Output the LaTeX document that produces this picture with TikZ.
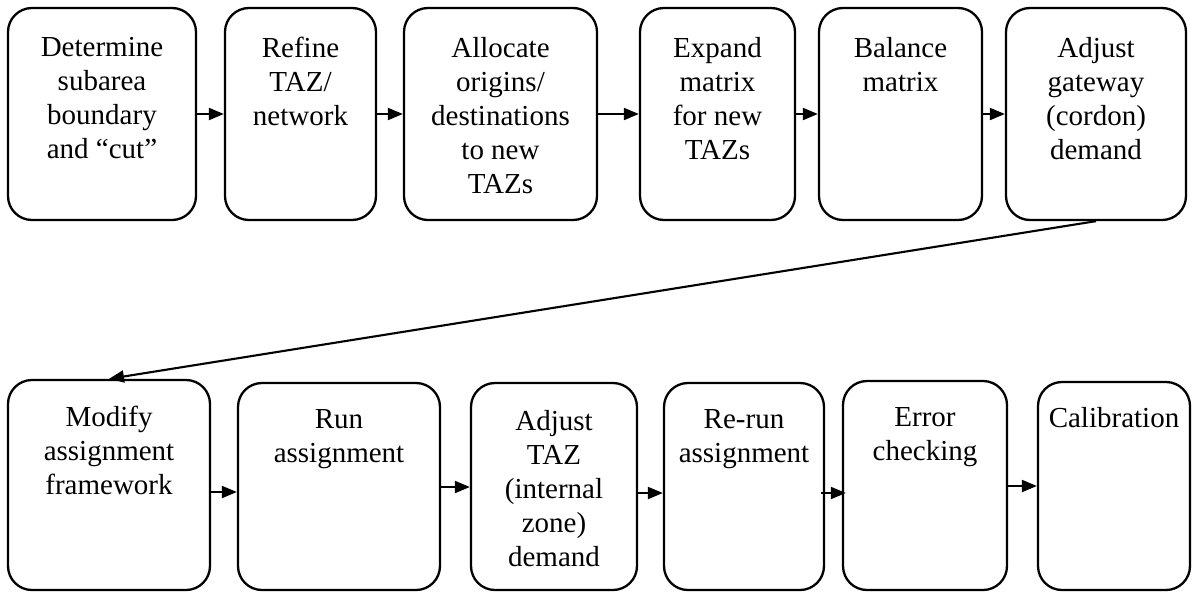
\documentclass[tikz,border=0pt]{standalone}
\usepackage{fontspec}
\setmainfont{Liberation Serif}
\usetikzlibrary{arrows.meta}
\begin{document}
\begin{tikzpicture}[x=1pt,y=-1pt,
  stepbox/.style={draw, line width=2.3pt, rounded corners=24pt, inner sep=0pt},
  txt/.style={align=center, anchor=north, inner sep=0pt, font=\fontsize{29}{34}\selectfont},
  arr/.style={line width=2.1pt, -{Triangle[length=15pt,width=12pt]}}]
\useasboundingbox (0,0) rectangle (1196,592);
% top row
\node[stepbox, minimum width=188pt, minimum height=212pt] (t1) at (102,114) {};
\node[stepbox, minimum width=151pt, minimum height=212pt] (t2) at (300.5,114) {};
\node[stepbox, minimum width=193pt, minimum height=212pt] (t3) at (500.5,114) {};
\node[stepbox, minimum width=155pt, minimum height=212pt] (t4) at (717.5,114) {};
\node[stepbox, minimum width=163pt, minimum height=212pt] (t5) at (900.5,114) {};
\node[stepbox, minimum width=180pt, minimum height=212pt] (t6) at (1096,114) {};
\node[txt] (t1x) at ([yshift=-30pt]t1.north) {Determine\\subarea\\boundary\\and “cut”};
\node[txt] (t2x) at ([yshift=-30pt]t2.north) {Refine\\TAZ/\\network};
\node[txt] (t3x) at ([yshift=-30pt]t3.north) {Allocate\\origins/\\destinations\\to new\\TAZs};
\node[txt] (t4x) at ([yshift=-30pt]t4.north) {Expand\\matrix\\for new\\TAZs};
\node[txt] (t5x) at ([yshift=-30pt]t5.north) {Balance\\matrix};
\node[txt] (t6x) at ([yshift=-30pt]t6.north) {Adjust\\gateway\\(cordon)\\demand};
% bottom row
\node[stepbox, minimum width=202pt, minimum height=210pt] (b1) at (109,485) {};
\node[stepbox, minimum width=202pt, minimum height=207pt] (b2) at (339,486.5) {};
\node[stepbox, minimum width=166pt, minimum height=207pt] (b3) at (554,486.5) {};
\node[stepbox, minimum width=160pt, minimum height=207pt] (b4) at (744,486.5) {};
\node[stepbox, minimum width=164pt, minimum height=209pt] (b5) at (925,485.5) {};
\node[stepbox, minimum width=152pt, minimum height=208pt] (b6) at (1114,486) {};
\node[txt] (b1x) at ([yshift=-27pt]b1.north) {Modify\\assignment\\framework};
\node[txt] (b2x) at ([yshift=-27pt]b2.north) {Run\\assignment};
\node[txt] (b3x) at ([yshift=-28pt]b3.north) {Adjust\\TAZ\\(internal\\zone)\\demand};
\node[txt] (b4x) at ([yshift=-27pt]b4.north) {Re-run\\assignment};
\node[txt] (b5x) at ([yshift=-27pt]b5.north) {Error\\checking};
\node[txt] (b6x) at ([yshift=-26pt]b6.north) {Calibration};
% connectors
\draw[arr] (t1.east) -- (t2.west);
\draw[arr] (t2.east) -- (t3.west);
\draw[arr] (t3.east) -- (t4.west);
\draw[arr] (t4.east) -- (t5.west);
\draw[arr] (t5.east) -- (t6.west);
\draw[arr] (t6.south) -- (b1.north);
\draw[arr] ([yshift=-7pt]b1.east) -- ([yshift=-7pt]b1.east -| b2.west);
\draw[arr] ([yshift=-0.5pt]b2.east) -- ([yshift=-0.5pt]b2.east -| b3.west);
\draw[arr] ([yshift=-6.5pt]b3.east) -- ([yshift=-6.5pt]b3.east -| b4.west);
\draw[arr] ([xshift=-4pt,yshift=-6.5pt]b4.east) -- ([xshift=4pt,yshift=-6.5pt]b4.east -| b5.west);
\draw[arr] ([yshift=-0.5pt]b5.east) -- ([yshift=-0.5pt]b5.east -| b6.west);
\end{tikzpicture}
\end{document}
